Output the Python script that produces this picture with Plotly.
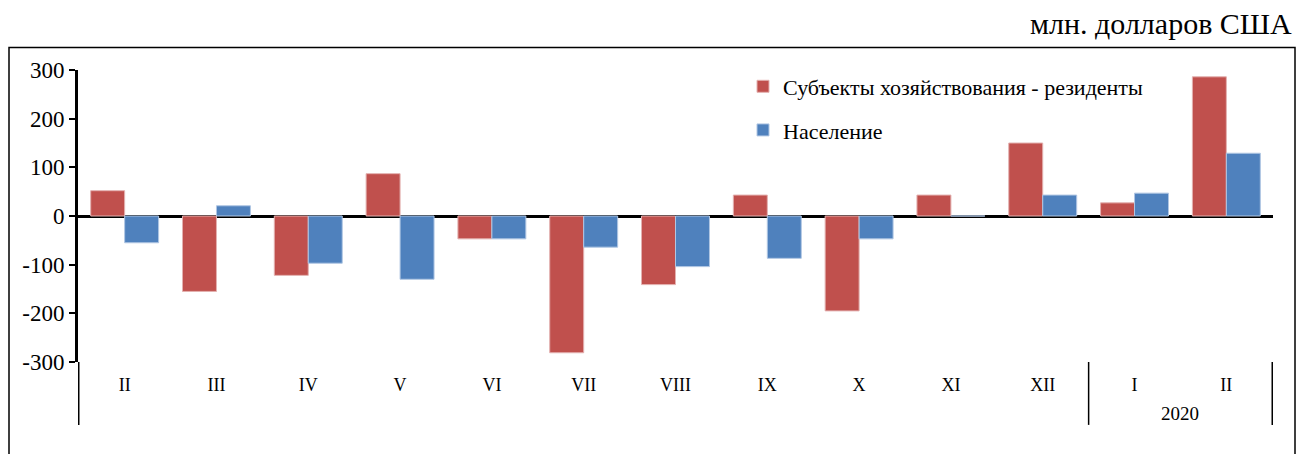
import plotly.graph_objects as go

years = ["", "", "", "", "", "", "", "", "", "", "", "2020", "2020"]
months = ["II", "III", "IV", "V", "VI", "VII", "VIII", "IX", "X", "XI", "XII", "I", "II"]
residents = [52, -155, -122, 87, -47, -281, -141, 43, -195, 43, 150, 27, 286]
population = [-55, 21, -97, -130, -47, -64, -104, -87, -47, 0, 43, 47, 129]

series_names = ["Субъекты хозяйствования - резиденты", "Население"]
series_colors = ["#C0504D", "#4F81BD"]
edge_colors = ["#E3B1B0", "#B0C6E3"]

ytick_vals = [-300, -200, -100, 0, 100, 200, 300]
ytick_text = ["-300", "-200", "-100", "0", "100", "200", "300"]
unit_label = "млн. долларов США"

FONT = "Liberation Serif"

x_keys = [(y + " " + m).strip() for y, m in zip(years, months)]

fig = go.Figure()
for name, vals, col, ecol, grp in zip(series_names, [residents, population],
                                       series_colors, edge_colors, ["a", "b"]):
    fig.add_trace(go.Bar(
        x=x_keys, y=vals, name=name, legendgroup=grp,
        marker=dict(color=col, line=dict(color=ecol, width=1)),
    ))

# page body has an 8px margin; figure sized to fill the rest of the window
OFF = 8
W, H = 1296, 446
L, R, T, B = 70, 31, 61.5, 92
pw = W - L - R
ph = H - T - B

def px_x(p):
    return (p - OFF - L) / pw

def px_y(p):
    return (H - B - (p - OFF)) / ph

# group boundaries (edges of year groups) for divider lines
bounds = [-0.5]
for i in range(1, len(years)):
    if years[i] != years[i - 1]:
        bounds.append(i - 0.5)
bounds.append(len(years) - 0.5)

shapes = [dict(
    type="rect", xref="paper", yref="paper",
    x0=px_x(9), x1=px_x(1295), y0=px_y(480), y1=px_y(47),
    line=dict(color="black", width=1.5), fillcolor="rgba(0,0,0,0)",
    layer="below",
)]
for b in bounds:
    shapes.append(dict(
        type="line", xref="x", yref="paper", x0=b, x1=b,
        y0=px_y(425), y1=px_y(362),
        line=dict(color="black", width=1.5),
    ))

annotations = [dict(
    text=unit_label, xref="paper", yref="paper",
    x=px_x(1293), y=px_y(23), xanchor="right", yanchor="middle",
    showarrow=False, borderpad=0,
    font=dict(family=FONT, size=30, color="black"),
)]
for gi in range(len(bounds) - 1):
    start = int(bounds[gi] + 0.5)
    label = years[start]
    if label:
        annotations.append(dict(
            text=label, xref="x", yref="paper",
            x=(bounds[gi] + bounds[gi + 1]) / 2, y=px_y(414),
            xanchor="center", yanchor="middle", showarrow=False,
            font=dict(family=FONT, size=19, color="black"),
        ))

fig.update_layout(
    width=W, height=H,
    margin=dict(l=L, r=R, t=T, b=B),
    paper_bgcolor="white", plot_bgcolor="white",
    font=dict(family=FONT, color="black"),
    barmode="group", bargap=0.26, bargroupgap=0,
    showlegend=True,
    legend=dict(
        x=px_x(743), y=px_y(65), xanchor="left", yanchor="top",
        font=dict(family=FONT, size=22, color="black"),
        bgcolor="rgba(0,0,0,0)", tracegroupgap=12,
        itemwidth=30,
    ),
    xaxis=dict(
        type="category",
        tickvals=x_keys, ticktext=months,
        showgrid=False, showline=False, zeroline=False,
        tickfont=dict(family=FONT, size=18, color="black"),
        ticks="", ticklabelstandoff=10,
    ),
    yaxis=dict(
        range=[-300, 300],
        tickvals=ytick_vals, ticktext=ytick_text,
        showgrid=False, showline=True, linecolor="black", linewidth=3,
        ticks="outside", ticklen=6, tickwidth=2, tickcolor="black",
        zeroline=True, zerolinecolor="black", zerolinewidth=3,
        tickfont=dict(family=FONT, size=23, color="black"),
    ),
    shapes=shapes,
    annotations=annotations,
)

fig.write_html("out.html")
